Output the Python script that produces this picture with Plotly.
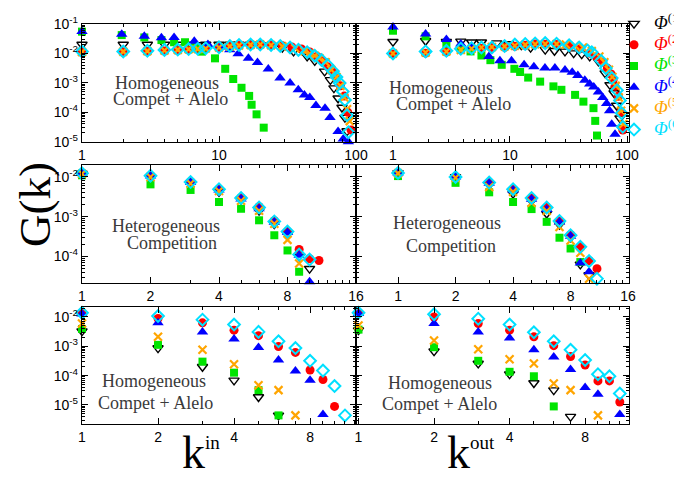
import math
import plotly.graph_objects as go

# ---------------- data (k, G(k)) ----------------
# Top-left: homogeneous, compet+alelo, k_in (decade axis)
TL_K1 = [1, 2, 3, 4, 5, 6, 7, 8, 10, 12, 14, 17, 20, 24, 29, 35, 44, 50, 59, 65, 69, 74, 79, 83, 86]
TL_G1 = [0.020, 0.020, 0.020, 0.020, 0.020, 0.020, 0.0195, 0.020, 0.020, 0.020, 0.020, 0.020, 0.0195, 0.0186, 0.0158,
         0.0117, 0.0079, 0.0056, 0.00245, 0.00126, 6.6e-4, 3.0e-4, 1.45e-4, 6.6e-5, 2.3e-5]
TL_K2 = [1, 2, 3, 4, 5, 6, 7, 8, 10, 12, 14, 17, 20, 24, 29, 34, 40, 46, 52, 57, 62, 67, 72, 77, 82, 87, 92]
TL_G2 = [0.0107, 0.011, 0.0117, 0.012, 0.0126, 0.0132, 0.0138, 0.0145, 0.0158, 0.0174, 0.019, 0.020, 0.020, 0.0195,
         0.0182, 0.0166, 0.0141, 0.0112, 0.0079, 0.0056, 0.00355, 0.0024, 0.00141, 7.9e-4, 3.55e-4, 1.0e-4, 2.5e-5]
TL_K3 = [1, 1.95, 2.85, 3.8, 4.7, 5.65, 6.7, 7.5, 9.35, 11.1, 12.7, 14.6, 16.6, 17.3, 18.8, 21.2]
TL_G3 = [0.055, 0.042, 0.035, 0.0285, 0.024, 0.024, 0.017, 0.0115, 0.0068, 0.0030, 0.00135, 6.8e-4, 3.6e-4, 1.8e-4,
         8.5e-5, 3.0e-5]
TL_K4 = [1, 1.95, 2.85, 3.8, 4.7, 6.6, 8.3, 10.3, 12.0, 13.8, 16.4, 19.1, 22.9, 27.9, 33, 37.9, 42, 46, 51, 59.4,
         64.6, 74, 80.7, 88]
TL_G4 = [0.056, 0.045, 0.038, 0.034, 0.035, 0.0257, 0.020, 0.0166, 0.0133, 0.0098, 0.0069, 0.0049, 0.00295, 0.00145,
         9.8e-4, 5.8e-4, 3.9e-4, 3.2e-4, 1.7e-4, 1.38e-4, 6.6e-5, 2.2e-5, 1.23e-5, 1.0e-5]
TL_K5 = [1, 2, 3, 4, 5, 6, 7, 8, 10, 12, 14, 17, 20, 24, 29, 36, 42, 46, 50, 54, 60, 66, 72, 77, 82, 86, 90]
TL_G5 = [0.0112, 0.0115, 0.012, 0.0126, 0.0132, 0.0138, 0.0141, 0.0148, 0.0158, 0.0174, 0.0186, 0.0195, 0.020, 0.019,
         0.0174, 0.0151, 0.012, 0.0098, 0.0083, 0.0069, 0.0050, 0.0028, 0.00158, 7.9e-4, 3.2e-4, 1.26e-4, 5.0e-5]
TL_K6 = [1, 2, 3, 4, 5, 6, 7, 8, 10, 12, 14, 17, 20, 24, 28, 33, 38, 44, 50, 56, 62, 68, 72, 76, 80, 83, 86, 88]
TL_G6 = [0.0117, 0.0117, 0.0123, 0.0132, 0.0135, 0.0141, 0.0145, 0.0151, 0.0162, 0.0178, 0.0195, 0.020, 0.020, 0.0195,
         0.0178, 0.0158, 0.0132, 0.011, 0.0083, 0.006, 0.004, 0.0025, 0.00158, 9.8e-4, 5.1e-4, 2.6e-4, 7.9e-5, 2.1e-5]

# Top-right: homogeneous, compet+alelo, k_out (decade axis)
TR_K1 = [1, 1.9, 2.86, 3.8, 4.7, 5.7, 7.7, 9.7, 12.5, 15, 20, 24, 29.5, 35, 41, 48, 57, 65, 71.5, 77.5, 81.5, 87, 90]
TR_G1 = [0.025, 0.027, 0.025, 0.0257, 0.024, 0.024, 0.0224, 0.0209, 0.019, 0.0158, 0.0135, 0.0123, 0.0117, 0.0102,
         0.0095, 0.0079, 0.0054, 0.00214, 8.5e-4, 4.5e-4, 1.7e-4, 6.3e-5, 2.9e-5]
TR_K2 = [1, 1.9, 2.86, 3.8, 4.7, 5.7, 7, 9, 11, 13.5, 16.4, 20, 25, 32.6, 40, 48, 55, 62, 68, 73, 76, 79, 84, 88, 92]
TR_G2 = [0.0095, 0.0102, 0.0112, 0.0132, 0.0138, 0.0148, 0.0158, 0.0162, 0.0174, 0.019, 0.0209, 0.0204, 0.020, 0.0174,
         0.0145, 0.0102, 0.0076, 0.005, 0.00316, 0.002, 0.00126, 7.6e-4, 3.5e-4, 1.0e-4, 2.5e-5]
TR_K3 = [1, 1.9, 2.86, 3.8, 4.6, 5.7, 6.8, 8.5, 10.9, 12.2, 14.3, 18.1, 23.5, 27.5, 36, 42.4, 51.7, 53.5, 55.4]
TR_G3 = [0.059, 0.038, 0.021, 0.015, 0.0117, 0.0085, 0.0059, 0.0041, 0.003, 0.00234, 0.00151, 0.0011, 7.6e-4, 5.8e-4,
         3.9e-4, 2.3e-4, 1.38e-4, 5.1e-5, 1.62e-5]
TR_K4 = [1, 1.9, 2.86, 3.8, 4.7, 6.6, 8.2, 10.3, 13.2, 16, 19.9, 24.2, 29.5, 34, 38, 43.6, 48, 52, 57, 62, 67, 71, 74, 79]
TR_G4 = [0.079, 0.046, 0.0295, 0.021, 0.0174, 0.0079, 0.0056, 0.0056, 0.0041, 0.0035, 0.0032, 0.0032, 0.00275, 0.0023,
         0.00178, 0.00123, 9.1e-4, 7.2e-4, 4.9e-4, 3.2e-4, 2.0e-4, 1.12e-4, 3.9e-5, 1.8e-5]
TR_K5 = [1, 1.9, 2.86, 3.8, 4.7, 5.7, 7, 9, 11, 13.5, 16.4, 20, 25, 30, 36, 42, 50, 58, 64, 70, 75, 80, 85, 89, 93]
TR_G5 = [0.010, 0.0107, 0.0117, 0.0132, 0.0145, 0.0158, 0.0166, 0.0174, 0.0182, 0.0195, 0.0204, 0.0209, 0.0209, 0.020,
         0.0182, 0.0158, 0.012, 0.0079, 0.005, 0.0028, 0.00158, 7.9e-4, 3.2e-4, 1.12e-4, 4.0e-5]
TR_K6 = [1, 1.9, 2.86, 3.8, 4.7, 5.7, 7, 9, 11, 13.5, 16.4, 20, 25, 32, 39, 46, 50, 60, 66, 74, 82, 87, 90, 92]
TR_G6 = [0.010, 0.0117, 0.0123, 0.0145, 0.0151, 0.0158, 0.0158, 0.0178, 0.020, 0.0209, 0.0219, 0.0224, 0.0214, 0.019,
         0.0158, 0.0126, 0.011, 0.0056, 0.00316, 0.00145, 5.6e-4, 2.5e-4, 9.3e-5, 3.2e-5]

# Middle-left: heterogeneous, competition, k_in (octave axis)
ML_K1 = [1, 2, 3, 4, 5, 6, 7, 8, 9, 10]
ML_G1 = [0.0123, 0.010, 0.0069, 0.0042, 0.0027, 0.00141, 6.5e-4, 3.55e-4, 1.0e-4, 4.9e-5]
ML_K2 = [1, 2, 3, 4, 5, 6, 7, 8, 9, 10, 11, 12]
ML_G2 = [0.0123, 0.0107, 0.0076, 0.0049, 0.003, 0.00178, 7.9e-4, 4.3e-4, 1.5e-4, 8.7e-5, 7.9e-5, 2.1e-5]
ML_K3 = [1, 2, 3, 4, 5, 6, 7, 8, 9]
ML_G3 = [0.011, 0.0065, 0.0047, 0.00234, 0.00158, 8.1e-4, 3.4e-4, 1.41e-4, 4.1e-5]
ML_K4 = [1, 2, 3, 4, 5, 6, 7, 8, 9, 10]
ML_G4 = [0.0123, 0.0105, 0.0072, 0.0047, 0.0028, 0.00158, 7.2e-4, 4.0e-4, 1.07e-4, 2.3e-5]
ML_K5 = [1, 2, 3, 4, 5, 6, 7, 8, 9]
ML_G5 = [0.012, 0.010, 0.0068, 0.0044, 0.0025, 0.00141, 6.6e-4, 2.6e-4, 6.6e-5]
ML_K6 = [1, 2, 3, 4, 5, 6, 7, 8, 9, 10]
ML_G6 = [0.0123, 0.0107, 0.0074, 0.0049, 0.00295, 0.0017, 7.6e-4, 4.2e-4, 1.12e-4, 8.3e-5]

# Middle-right: heterogeneous, competition, k_out (octave axis)
MR_K1 = [1, 2, 3, 4, 5, 6, 7, 8, 9, 10]
MR_G1 = [0.0126, 0.010, 0.0063, 0.0038, 0.0025, 0.0012, 6.3e-4, 3.0e-4, 6.3e-5, 3.4e-5]
MR_K2 = [1, 2, 3, 4, 5, 6, 7, 8, 9, 10, 11]
MR_G2 = [0.0126, 0.010, 0.0072, 0.0048, 0.00295, 0.00174, 7.8e-4, 3.5e-4, 1.74e-4, 7.8e-5, 4.9e-5]
MR_K3 = [1, 2, 3, 4, 5, 6, 7, 8, 9]
MR_G3 = [0.0105, 0.0071, 0.0041, 0.00234, 0.00155, 7.4e-4, 2.95e-4, 1.58e-4, 7.2e-5]
MR_K4 = [1, 2, 3, 4, 5, 6, 7, 8, 9, 10]
MR_G4 = [0.0126, 0.010, 0.0069, 0.0046, 0.00275, 0.00151, 7.2e-4, 3.2e-4, 6.8e-5, 4.1e-5]
MR_K5 = [1, 2, 3, 4, 5, 6, 7, 8, 9, 10]
MR_G5 = [0.0123, 0.0095, 0.0056, 0.0042, 0.00224, 0.00138, 5.5e-4, 2.5e-4, 1.23e-4, 2.75e-5]
MR_K6 = [1, 2, 3, 4, 5, 6, 7, 8, 9, 10, 11]
MR_G6 = [0.0126, 0.010, 0.0072, 0.0049, 0.00295, 0.0017, 7.8e-4, 3.4e-4, 1.74e-4, 7.6e-5, 2.75e-5]

# Bottom-left: homogeneous, compet+alelo, k_in (octave axis)
BL_K1 = [1, 2, 3, 4, 5, 6]
BL_G1 = [0.0033, 8.7e-4, 2.0e-4, 6.9e-5, 1.86e-5, 4.4e-6]
BL_K2 = [1, 2, 3, 4, 5, 6, 7, 8, 9, 10]
BL_G2 = [0.0132, 0.0089, 0.0063, 0.00355, 0.0023, 9.8e-4, 6.2e-4, 1.55e-4, 7.4e-5, 8.9e-6]
BL_K3 = [1, 2, 3, 4, 5, 6]
BL_G3 = [0.0039, 0.00112, 3.0e-4, 1.26e-4, 3.2e-5, 4.4e-6]
BL_K4 = [1, 2, 3, 4, 5, 6, 7, 8, 9]
BL_G4 = [0.0126, 0.0063, 0.0031, 0.00178, 9.1e-4, 3.4e-4, 1.45e-4, 6.9e-5, 4.7e-6]
BL_K5 = [1, 2, 3, 4, 5, 6, 7]
BL_G5 = [0.006, 0.0021, 7.6e-4, 2.45e-4, 4.7e-5, 3.2e-5, 4.4e-6]
BL_K6 = [1, 2, 3, 4, 5, 6, 7, 8, 9, 10, 11]
BL_G6 = [0.0138, 0.0107, 0.0081, 0.0055, 0.0031, 0.00148, 8.7e-4, 3.2e-4, 1.48e-4, 4.4e-5, 4.4e-6]

# Bottom-right: homogeneous, compet+alelo, k_out (octave axis)
BR_K1 = [1, 2, 3, 4, 5, 6, 7]
BR_G1 = [0.00355, 6.8e-4, 2.6e-4, 1.12e-4, 5.6e-5, 3.2e-5, 4.0e-6]
BR_K2 = [1, 2, 3, 4, 5, 6, 7, 8, 9, 10, 11]
BR_G2 = [0.0132, 0.010, 0.006, 0.00355, 0.0021, 0.00105, 4.5e-4, 2.3e-4, 6.6e-5, 6.6e-5, 1.26e-5]
BR_K3 = [1, 2, 3, 4, 5, 6]
BR_G3 = [0.0037, 9.3e-4, 3.2e-4, 1.35e-4, 9.5e-5, 8.9e-6]
BR_K4 = [1, 2, 3, 4, 5, 6, 7, 8, 9, 11]
BR_G4 = [0.0132, 0.006, 0.0031, 0.0019, 7.6e-4, 4.3e-4, 1.62e-4, 3.9e-5, 2.3e-5, 4.7e-6]
BR_K5 = [1, 2, 3, 4, 5, 6, 7, 9]
BR_G5 = [0.0051, 0.00158, 7.9e-4, 3.6e-4, 2.6e-4, 5.4e-5, 3.2e-5, 4.4e-6]
BR_K6 = [1, 2, 3, 4, 5, 6, 7, 8, 9, 10, 11]
BR_G6 = [0.0138, 0.0123, 0.0087, 0.0055, 0.003, 0.00148, 7.6e-4, 3.4e-4, 1.12e-4, 9.5e-5, 2.45e-5]

SERIES_NAMES = ["(1)", "(2)", "(3)", "(4)", "(5)", "(6)"]
COLORS = ["#000000", "#ff0000", "#00e400", "#0000ff", "#ffa500", "#00e0ff"]
SYMBOLS = ["triangle-down-open", "circle", "square", "triangle-up", "x-thin-open", "diamond-open"]
SIZES = [9, 9, 8, 10, 8, 9]
LINEW = [1.4, 0, 0, 0, 2.2, 2.0]

PANEL_TEXT = {
    1: ["Homogeneous", "Compet + Alelo"],
    2: ["Homogeneous", "Compet + Alelo"],
    3: ["Heterogeneous", "Competition"],
    4: ["Heterogeneous", "Competition"],
    5: ["Homogeneous", "Compet + Alelo"],
    6: ["Homogeneous", "Compet + Alelo"],
}

panels = {
    1: ([TL_K1, TL_K2, TL_K3, TL_K4, TL_K5, TL_K6], [TL_G1, TL_G2, TL_G3, TL_G4, TL_G5, TL_G6]),
    2: ([TR_K1, TR_K2, TR_K3, TR_K4, TR_K5, TR_K6], [TR_G1, TR_G2, TR_G3, TR_G4, TR_G5, TR_G6]),
    3: ([ML_K1, ML_K2, ML_K3, ML_K4, ML_K5, ML_K6], [ML_G1, ML_G2, ML_G3, ML_G4, ML_G5, ML_G6]),
    4: ([MR_K1, MR_K2, MR_K3, MR_K4, MR_K5, MR_K6], [MR_G1, MR_G2, MR_G3, MR_G4, MR_G5, MR_G6]),
    5: ([BL_K1, BL_K2, BL_K3, BL_K4, BL_K5, BL_K6], [BL_G1, BL_G2, BL_G3, BL_G4, BL_G5, BL_G6]),
    6: ([BR_K1, BR_K2, BR_K3, BR_K4, BR_K5, BR_K6], [BR_G1, BR_G2, BR_G3, BR_G4, BR_G5, BR_G6]),
}

# the page body has an 8px margin, so the figure is placed at (8, 8) in the window
PAGE_OFF = 8
W, H = 682 - PAGE_OFF, 481 - PAGE_OFF


def px_x(p):
    return (p - PAGE_OFF) / W


def px_y(p):
    return 1 - (p - PAGE_OFF) / H


fig = go.Figure()

for pi in range(1, 7):
    ks, gs = panels[pi]
    xa = "x" if pi == 1 else f"x{pi}"
    ya = "y" if pi == 1 else f"y{pi}"
    for si in range(6):
        legend_name = (
            f'<span style="font-size:18px;color:{COLORS[si]}"><i>Φ</i><sup>{SERIES_NAMES[si]}</sup></span>'
        )
        fig.add_trace(
            go.Scatter(
                x=ks[si],
                y=gs[si],
                mode="markers",
                xaxis=xa,
                yaxis=ya,
                name=legend_name,
                showlegend=(pi == 1),
                cliponaxis=False,
                marker=dict(
                    symbol=SYMBOLS[si],
                    color=COLORS[si],
                    size=SIZES[si],
                    line=dict(width=LINEW[si], color=COLORS[si]),
                ),
            )
        )

# ---------------- axes ----------------
XL = [px_x(82), px_x(356)]
XR = [px_x(356), px_x(629)]
Y_TOP = [px_y(141.7), px_y(24)]
Y_MID = [px_y(283), px_y(165)]
Y_BOT = [px_y(424), px_y(307)]

DEC_TICKS = [1, 10, 100]
DEC_TEXT = ["1", "10", "100"]
DEC_MINOR = [2, 3, 4, 5, 6, 7, 8, 9, 20, 30, 40, 50, 60, 70, 80, 90]
OCT_TICKS = [1, 2, 4, 8, 16]
OCT_TEXT = ["1", "2", "4", "8", "16"]
OCT_MINOR = [3, 5, 6, 7, 9, 10, 11, 12, 13, 14, 15]
OCT4_TICKS = [1, 2, 4, 8]
OCT4_TEXT = ["1", "2", "4", "8"]

Y_MINOR = [m * 10.0 ** e for e in range(-6, -1) for m in range(2, 10)]

axis_common = dict(
    type="log",
    automargin=False,
    showline=True,
    linecolor="black",
    linewidth=1.3,
    mirror="allticks",
    ticks="inside",
    ticklen=6,
    tickwidth=1.2,
    tickcolor="black",
    showgrid=False,
    zeroline=False,
    tickfont=dict(family="Liberation Sans, Arial", size=14, color="black"),
)


def xaxis(domain, anchor, rng, tv, tt, minor):
    d = dict(axis_common)
    d.update(
        domain=domain, anchor=anchor, range=rng,
        tickmode="array", tickvals=tv, ticktext=tt,
        minor=dict(tickmode="array", tickvals=minor, ticks="inside", ticklen=3, tickcolor="black", showgrid=False),
    )
    return d


def yaxis(domain, anchor, rng, tv, show_labels):
    d = dict(axis_common)
    d.update(
        domain=domain, anchor=anchor, range=rng,
        tickmode="array", tickvals=tv,
        ticktext=[f"10<sup>{int(round(math.log10(v)))}</sup>" for v in tv],
        showticklabels=show_labels,
        minor=dict(tickmode="array", tickvals=Y_MINOR, ticks="inside", ticklen=3, tickcolor="black", showgrid=False),
    )
    return d


Y_TOP_TICKS = [1e-1, 1e-2, 1e-3, 1e-4, 1e-5]
Y_MID_TICKS = [1e-2, 1e-3, 1e-4]
Y_BOT_TICKS = [1e-2, 1e-3, 1e-4, 1e-5]

layout_axes = dict(
    xaxis=xaxis(XL, "y", [0, 2], DEC_TICKS, DEC_TEXT, DEC_MINOR),
    yaxis=yaxis(Y_TOP, "x", [-5, -1], Y_TOP_TICKS, True),
    xaxis2=xaxis(XR, "y2", [-0.316, 2.017], DEC_TICKS, DEC_TEXT, DEC_MINOR),
    yaxis2=yaxis(Y_TOP, "x2", [-5, -1], Y_TOP_TICKS, False),
    xaxis3=xaxis(XL, "y3", [0, 1.2041], OCT_TICKS, OCT_TEXT, OCT_MINOR),
    yaxis3=yaxis(Y_MID, "x3", [-4.67, -1.70], Y_MID_TICKS, True),
    xaxis4=xaxis(XR, "y4", [-0.22, 1.209], OCT_TICKS, OCT_TEXT, OCT_MINOR),
    yaxis4=yaxis(Y_MID, "x4", [-4.67, -1.70], Y_MID_TICKS, False),
    xaxis5=xaxis(XL, "y5", [0, 1.085], OCT4_TICKS, OCT4_TEXT, OCT_MINOR),
    yaxis5=yaxis(Y_BOT, "x5", [-5.65, -1.66], Y_BOT_TICKS, True),
    xaxis6=xaxis(XR, "y6", [-0.01, 1.078], OCT4_TICKS, OCT4_TEXT, OCT_MINOR),
    yaxis6=yaxis(Y_BOT, "x6", [-5.65, -1.66], Y_BOT_TICKS, False),
)

# ---------------- annotations ----------------
TXT_POS = {
    1: [(167, 82.5), (170, 99.5)],
    2: [(441, 87.5), (453, 104.5)],
    3: [(166, 225.5), (172, 243)],
    4: [(447, 223.5), (451, 245.5)],
    5: [(154, 380.5), (155, 402.5)],
    6: [(440, 382.5), (439, 403.5)],
}
annotations = []
for pi in range(1, 7):
    for line, (cx, cy) in zip(PANEL_TEXT[pi], TXT_POS[pi]):
        annotations.append(
            dict(
                text=line, x=px_x(cx), y=px_y(cy), xref="paper", yref="paper",
                xanchor="center", yanchor="middle", showarrow=False,
                font=dict(family="Liberation Serif, Times New Roman", size=18, color="#3a3a3a"),
            )
        )

annotations.append(
    dict(text="G(k)", x=px_x(35), y=px_y(205), xref="paper", yref="paper", textangle=-90,
         xanchor="center", yanchor="middle", showarrow=False,
         font=dict(family="Liberation Serif, Times New Roman", size=45, color="black"))
)
annotations.append(
    dict(text='k<sup><span style="font-size:19px">in</span></sup>', x=px_x(201), y=px_y(452),
         xref="paper", yref="paper", xanchor="center", yanchor="middle", showarrow=False,
         font=dict(family="Liberation Serif, Times New Roman", size=46, color="black"))
)
annotations.append(
    dict(text='k<sup><span style="font-size:19px">out</span></sup>', x=px_x(471), y=px_y(452),
         xref="paper", yref="paper", xanchor="center", yanchor="middle", showarrow=False,
         font=dict(family="Liberation Serif, Times New Roman", size=46, color="black"))
)

fig.update_layout(
    width=W,
    height=H,
    margin=dict(l=0, r=0, t=0, b=0, autoexpand=False),
    paper_bgcolor="white",
    plot_bgcolor="white",
    annotations=annotations,
    showlegend=True,
    legend=dict(
        x=px_x(614), y=px_y(8), xanchor="left", yanchor="top",
        bgcolor="rgba(0,0,0,0)", borderwidth=0,
        font=dict(family="Liberation Serif, Times New Roman", size=14, color="black"),
        itemwidth=30, tracegroupgap=0,
    ),
    **layout_axes,
)

fig.write_html("out.html")
